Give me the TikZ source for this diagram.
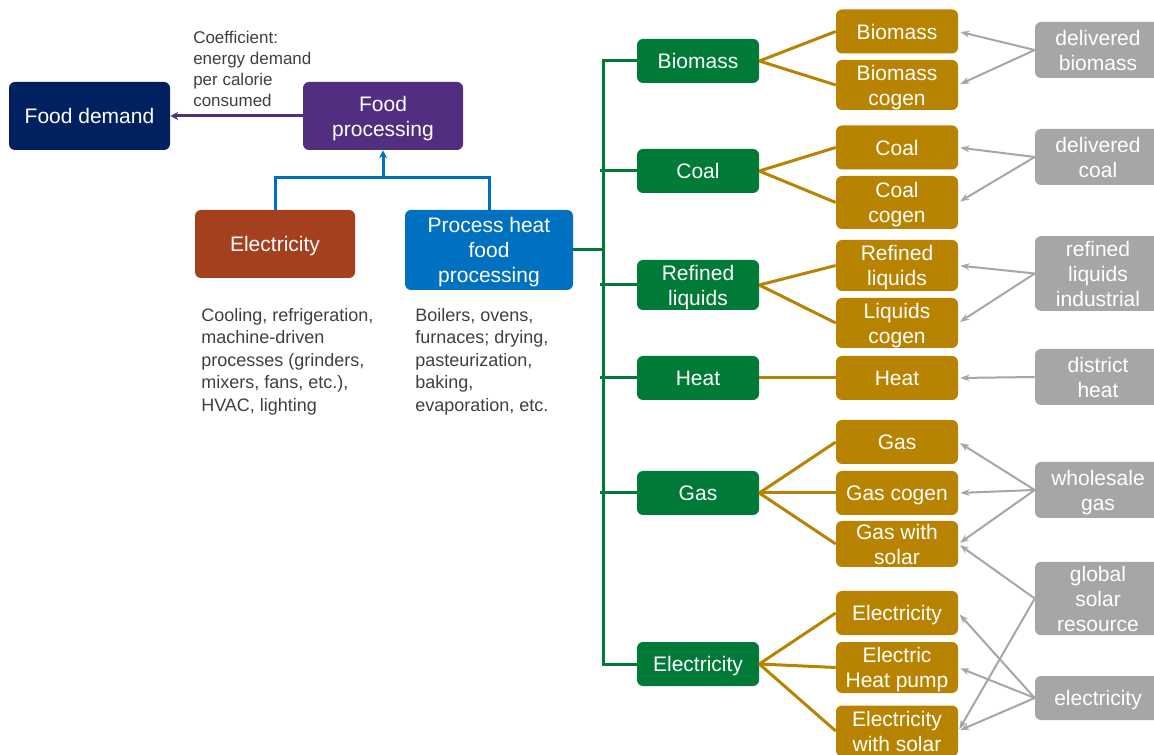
\documentclass[tikz,border=0pt]{standalone}
\usepackage{fontspec}
\setmainfont{Liberation Sans}
\usetikzlibrary{arrows.meta}

\definecolor{navybox}{HTML}{002060}
\definecolor{procpurple}{HTML}{522E80}
\definecolor{elecrust}{HTML}{A5401E}
\definecolor{heatblue}{HTML}{0070C0}
\definecolor{fuelgreen}{HTML}{007A37}
\definecolor{techgold}{HTML}{B88300}
\definecolor{srcgray}{HTML}{A6A6A6}
\definecolor{notegray}{HTML}{3F3F3F}

\begin{document}
\begin{tikzpicture}[x=0.75pt,y=-0.75pt,>=Stealth,
  box/.style={rounded corners=4.5pt,text=white,align=center,inner sep=0pt,
    text depth=0pt,font=\fontsize{15.75}{18.75}\selectfont},
  fuel/.style={box,fill=fuelgreen,minimum width=91.5pt,minimum height=33pt},
  tech/.style={box,fill=techgold,minimum width=91.5pt,minimum height=33pt},
  src/.style={box,fill=srcgray,minimum width=94.5pt,minimum height=42pt},
  note/.style={anchor=north west,align=left,text=notegray,inner sep=0pt,
    font=\fontsize{13.5}{16.9}\selectfont},
  link/.style={techgold,line width=2.25pt},
  bus/.style={fuelgreen,line width=2.25pt},
  feed/.style={srcgray,line width=1.5pt,shorten >=1.5pt,
    -{Stealth[length=7pt,width=5pt]}}]
  \clip (0,0) rectangle (1154,755);

  \node[box,fill=navybox,minimum width=120.75pt,minimum height=51pt] (demand)
    at (89.5,116) {Food demand};
  \node[box,fill=procpurple,minimum width=120pt,minimum height=51pt] (proc)
    at (383,116) {Food\\processing};
  \node[box,fill=elecrust,minimum width=120pt,minimum height=51pt] (elec)
    at (275,244) {Electricity};
  \node[box,fill=heatblue,minimum width=126pt,minimum height=60pt] (heat)
    at (489,250) {Process heat\\food\\processing};

  \node[note,font=\fontsize{12.75}{15.75}\selectfont] (coef) at (193,31)
    {Coefficient:\\energy demand\\per calorie\\consumed};
  \node[note] (elecnote) at (201,308)
    {Cooling, refrigeration,\\machine-driven\\processes (grinders,\\mixers, fans, etc.),\\HVAC, lighting};
  \node[note] (heatnote) at (415,308)
    {Boilers, ovens,\\furnaces; drying,\\pasteurization,\\baking,\\evaporation, etc.};

  \node[fuel] (fbio) at (698,61) {Biomass};
  \node[fuel] (fcoal) at (698,171) {Coal};
  \node[fuel,minimum height=37.5pt] (fliq) at (698,285) {Refined\\liquids};
  \node[fuel] (fheat) at (698,378) {Heat};
  \node[fuel] (fgas) at (698,493) {Gas};
  \node[fuel] (felec) at (698,664) {Electricity};

  \node[tech] (tbio) at (897,31.5) {Biomass};
  \node[tech,minimum height=37.5pt] (tbiocg) at (897,85) {Biomass\\cogen};
  \node[tech] (tcoal) at (897,147.5) {Coal};
  \node[tech,minimum height=39.75pt] (tcoalcg) at (897,202.5) {Coal\\cogen};
  \node[tech,minimum height=38.25pt] (tliq) at (897,265.5) {Refined\\liquids};
  \node[tech,minimum height=37.5pt] (tliqcg) at (897,323) {Liquids\\cogen};
  \node[tech] (theat) at (897,378) {Heat};
  \node[tech] (tgas) at (897,442) {Gas};
  \node[tech] (tgascg) at (897,493) {Gas cogen};
  \node[tech,minimum height=34.5pt] (tgassol) at (897,544) {Gas with\\solar};
  \node[tech] (telec) at (897,613) {Electricity};
  \node[tech,minimum height=38.25pt] (thp) at (897,667.5) {Electric\\Heat pump};
  \node[tech,minimum height=38.25pt] (telecsol) at (897,731) {Electricity\\with solar};

  \node[src] (sbio) at (1098,50) {delivered\\biomass};
  \node[src] (scoal) at (1098,157) {delivered\\coal};
  \node[src,minimum height=56pt] (sliq) at (1098,273.5) {refined\\liquids\\industrial};
  \node[src] (sheat) at (1098,377) {district\\heat};
  \node[src] (sgas) at (1098,490) {wholesale\\gas};
  \node[src,minimum height=55pt] (ssolar) at (1098,598.5) {global\\solar\\resource};
  \node[src,minimum height=33pt] (selec) at (1098,698) {electricity};

  \draw[procpurple,line width=2.25pt,-{Stealth[length=6pt,width=6pt]}]
    (proc.west) -- (demand.east);
  \coordinate (join) at (383,178);
  \draw[heatblue,line width=2.25pt] (elec.north) |- (join) -| (heat.north);
  \draw[heatblue,line width=2.25pt,-{Stealth[length=6pt,width=6pt]}]
    (join) -- (proc.south);

  \coordinate (trunk) at (603,250);
  \draw[bus] (heat.east) -- (trunk);
  \draw[bus] (fbio.west) -- (fbio.west -| trunk) -- (felec.west -| trunk) -- (felec.west);
  \draw[bus] (fcoal.west) -- ([xshift=-2.25pt]fcoal.west -| trunk);
  \draw[bus] (fliq.west) -- ([xshift=-2.25pt]fliq.west -| trunk);
  \draw[bus] (fheat.west) -- ([xshift=-2.25pt]fheat.west -| trunk);
  \draw[bus] (fgas.west) -- ([xshift=-2.25pt]fgas.west -| trunk);

  \draw[link] (fbio.east) -- (tbio.west);
  \draw[link] (fbio.east) -- (tbiocg.west);
  \draw[link] (fcoal.east) -- (tcoal.west);
  \draw[link] (fcoal.east) -- (tcoalcg.west);
  \draw[link] (fliq.east) -- (tliq.west);
  \draw[link] (fliq.east) -- (tliqcg.west);
  \draw[link] (fheat.east) -- (theat.west);
  \draw[link] (fgas.east) -- (tgas.west);
  \draw[link] (fgas.east) -- (tgascg.west);
  \draw[link] (fgas.east) -- (tgassol.west);
  \draw[link] (felec.east) -- (telec.west);
  \draw[link] (felec.east) -- (thp.west);
  \draw[link] (felec.east) -- (telecsol.west);

  \draw[feed] (sbio.west) -- (tbio.east);
  \draw[feed] (sbio.west) -- (tbiocg.east);
  \draw[feed] (scoal.west) -- (tcoal.east);
  \draw[feed] (scoal.west) -- (tcoalcg.east);
  \draw[feed] (sliq.west) -- (tliq.east);
  \draw[feed] (sliq.west) -- (tliqcg.east);
  \draw[feed] (sheat.west) -- (theat.east);
  \draw[feed] (sgas.west) -- (tgas.east);
  \draw[feed] (sgas.west) -- (tgascg.east);
  \draw[feed] (sgas.west) -- (tgassol.east);
  \draw[feed] (ssolar.west) -- (tgassol.east);
  \draw[feed] (ssolar.west) -- (telecsol.east);
  \draw[feed] (selec.west) -- (telec.east);
  \draw[feed] (selec.west) -- (thp.east);
  \draw[feed] (selec.west) -- (telecsol.east);
\end{tikzpicture}
\end{document}
